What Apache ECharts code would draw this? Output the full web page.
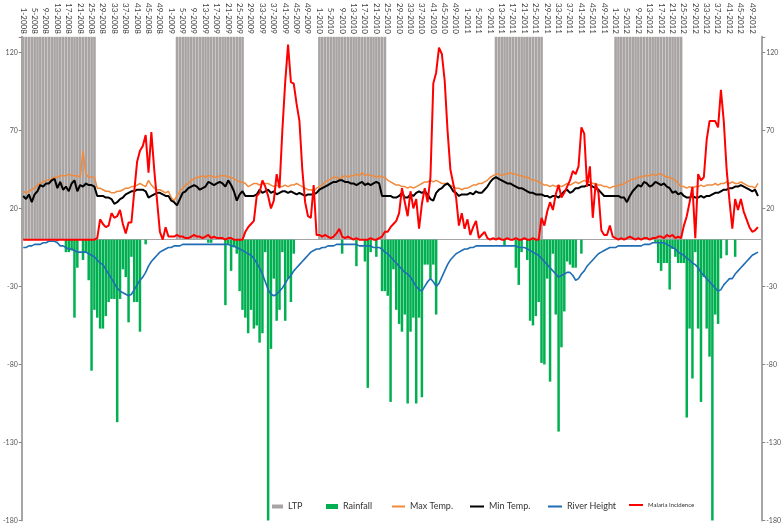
<!DOCTYPE html>
<html>
<head>
<meta charset="utf-8">
<script src="https://cdn.jsdelivr.net/npm/echarts@6/dist/echarts.min.js"></script>
</head>
<body style="margin:0">
<div id="main" style="width:784px;height:524px;"></div>
<script>
// categories: week-year, 52 weeks per year
var years = [2008, 2009, 2010, 2011, 2012];
var weeks = [];
years.forEach(function (y) {
  for (var w = 1; w <= 52; w++) weeks.push(w + '-' + y);
});

// LTP (gray band, long term planning period)
var ltp2008 = [130,130,130,130,130,130,130,130,130,130,130,130,130,130,130,130,130,130,130,130,130,130,130,130,130,130,0,0,0,0,0,0,0,0,0,0,0,0,0,0,0,0,0,0,0,0,0,0,0,0,0,0];
var ltp2009 = [0,0,130,130,130,130,130,130,130,130,130,130,130,130,130,130,130,130,130,130,130,130,130,130,130,130,0,0,0,0,0,0,0,0,0,0,0,0,0,0,0,0,0,0,0,0,0,0,0,0,0,0];
var ltp2010 = [130,130,130,130,130,130,130,130,130,130,130,130,130,130,130,130,130,130,130,130,130,130,130,130,0,0,0,0,0,0,0,0,0,0,0,0,0,0,0,0,0,0,0,0,0,0,0,0,0,0,0,0];
var ltp2011 = [0,0,0,0,0,0,0,0,0,0,130,130,130,130,130,130,130,130,130,130,130,130,130,130,130,130,130,0,0,0,0,0,0,0,0,0,0,0,0,0,0,0,0,0,0,0,0,0,0,0,0,0];
var ltp2012 = [130,130,130,130,130,130,130,130,130,130,130,130,130,130,130,130,130,130,130,130,130,130,130,130,0,0,0,0,0,0,0,0,0,0,0,0,0,0,0,0,0,0,0,0,0,0,0,0,0,0,0,0];

// Rainfall (plotted downward)
var rain2008 = [0,0,0,0,0,0,0,0,0,0,0,0,-1,0,0,-8,-8,-7,-50,-18,0,-13,-8,-26,-84,-45,-50,-57,-57,-49,-40,-38,-38,-117,-38,-19,-24,-53,-11,-40,-40,-59,0,-3,0,0,0,0,0,0,0,0];
var rain2009 = [0,0,0,0,0,0,0,0,0,0,0,0,0,-2,-2,0,0,0,0,-42,-3,-20,-5,-9,-33,-45,-50,-60,-45,-57,-55,-66,-60,-8,-180,-70,-25,-52,-45,-8,-52,-25,-40,-9,0,0,0,0,0,0,0,0];
var rain2010 = [0,0,0,0,0,0,0,0,-9,0,0,0,0,-17,0,0,-14,-95,-8,0,-11,0,-33,-33,-36,-104,-19,-45,-54,-59,-48,-105,-59,-50,-105,-50,-101,-16,-16,-25,-16,-48,0,0,0,0,0,0,0,0,0,0];
var rain2011 = [0,0,0,0,0,0,0,0,0,0,0,0,0,-4,0,0,0,-18,-29,-8,0,-13,-52,-55,-49,-40,-79,-80,-25,-91,-9,-48,-123,-69,-46,-14,-16,-18,-18,0,-9,0,0,0,0,0,0,0,0,0,0,0];
var rain2012 = [0,0,0,0,0,0,0,0,0,0,0,0,0,0,-2,-15,-20,-15,-15,-32,-6,-11,-15,-15,-15,-114,-57,-89,-8,-57,-104,-24,-57,-75,-180,-48,-54,-12,0,-10,0,0,-11,0,0,0,0,0,0,0,0,0];

// Max temperature
var max2008 = [31,30,31,32,33,35,36,37,38,38,39,40,40,41,41,41,42,41,41,41,40,57,42,40,40,40,33,33,32,31,31,30,30,31,31,32,33,33,34,34,35,36,35,34,38,35,33,32,32,31,30,31];
var max2009 = [27,25,28,31,33,35,36,38,39,40,40,41,40,41,41,40,40,41,41,41,40,40,39,38,37,37,36,34,35,36,36,35,36,36,36,35,34,35,34,34,35,34,35,35,36,35,34,33,32,32,31,33];
var max2010 = [34,35,37,38,39,40,40,39,40,41,40,41,41,42,41,43,41,42,41,41,40,41,40,40,38,37,36,35,35,34,34,33,34,33,34,35,36,37,37,38,37,38,37,36,36,36,35,34,33,33,32,33];
var max2011 = [33,34,35,35,36,36,37,38,40,41,42,42,41,42,42,43,42,42,41,41,40,40,39,38,38,37,36,35,35,34,35,34,35,34,35,36,35,36,37,36,37,38,37,37,36,36,35,35,34,34,33,34];
var max2012 = [34,35,35,36,37,38,39,39,40,40,41,41,41,42,41,42,42,41,40,40,39,38,36,34,34,33,34,33,34,34,35,34,35,35,35,36,35,36,36,37,36,37,36,36,37,36,35,34,34,33,36,null];

// Min temperature
var min2008 = [28,26,29,24,29,31,35,34,36,36,38,39,33,37,32,34,31,36,38,31,35,34,36,35,35,34,28,28,28,27,27,26,23,24,26,27,29,30,31,31,32,32,32,31,27,28,29,30,30,29,28,28];
var min2009 = [25,24,22,26,30,31,33,34,35,34,32,33,34,37,36,35,36,37,36,34,38,35,31,25,29,31,28,28,28,28,29,32,30,31,32,30,31,29,30,31,31,30,31,30,29,30,29,28,29,29,29,30];
var min2010 = [32,33,34,35,36,37,37,38,38,37,37,36,36,35,36,37,35,36,35,36,37,36,28,28,28,28,27,27,28,30,27,27,29,28,30,31,30,31,29,26,25,30,32,33,35,36,34,31,30,28,29,29];
var min2011 = [29,30,29,31,30,30,32,34,37,39,40,39,38,37,36,36,35,34,33,33,32,31,30,30,29,29,29,28,28,27,28,28,27,29,31,32,30,31,33,33,34,34,35,35,34,33,32,30,28,28,28,28];
var min2012 = [28,28,27,27,24,28,31,33,35,34,37,36,34,35,37,36,35,36,34,33,30,31,29,30,28,27,27,28,27,27,28,27,28,28,29,30,30,31,32,32,33,33,34,34,35,34,33,32,31,32,28,null];

// River height (plotted downward)
var river2008 = [-5,-5,-4,-4,-3,-3,-3,-2,-2,-1,-1,-1,-2,-4,-4,-5,-6,-6,-7,-8,-8,-8,-8,-9,-10,-11,-13,-15,-16,-19,-22,-25,-28,-31,-33,-34,-35,-36,-35,-32,-29,-26,-24,-21,-17,-14,-12,-10,-8,-7,-6,-5];
var river2009 = [-5,-4,-4,-4,-3,-3,-3,-3,-3,-3,-3,-3,-3,-3,-3,-3,-3,-3,-3,-3,-3,-4,-4,-5,-6,-7,-8,-9,-10,-12,-15,-18,-22,-27,-32,-35,-36,-35,-33,-31,-28,-25,-23,-20,-18,-16,-14,-12,-10,-8,-7,-6];
var river2010 = [-6,-5,-5,-4,-4,-4,-3,-3,-3,-3,-3,-3,-3,-3,-4,-4,-4,-4,-4,-5,-5,-5,-6,-8,-9,-11,-13,-15,-17,-19,-21,-22,-24,-27,-30,-32,-33,-30,-27,-25,-27,-30,-28,-24,-20,-16,-13,-11,-9,-8,-7,-6];
var river2011 = [-6,-5,-5,-4,-4,-4,-4,-4,-4,-4,-4,-4,-4,-4,-4,-4,-4,-4,-5,-5,-5,-6,-7,-8,-9,-10,-12,-14,-16,-18,-20,-22,-24,-23,-22,-21,-21,-23,-26,-25,-22,-20,-17,-15,-13,-11,-9,-8,-7,-6,-5,-5];
var river2012 = [-5,-4,-4,-4,-4,-4,-4,-4,-4,-4,-3,-3,-3,-2,-2,-2,-2,-2,-3,-4,-5,-6,-8,-9,-10,-12,-13,-15,-16,-18,-21,-23,-25,-27,-29,-31,-33,-32,-29,-27,-25,-25,-22,-20,-18,-16,-14,-12,-10,-9,-8,null];

// Malaria incidence
var mal2008 = [0,0,0,0,0,0,0,0,0,0,0,0,0,0,0,0,0,0,0,0,0,0,0,0,0,0,1,13,10,8,9,17,14,15,19,10,4,11,11,31,50,57,60,67,43,69,45,25,5,0,8,2];
var mal2009 = [2,2,3,2,2,1,1,2,3,2,2,1,2,3,1,2,1,1,1,0,1,1,0,0,0,0,5,8,10,12,28,30,38,34,28,20,25,42,33,70,101,125,101,100,87,76,45,24,15,14,35,3];
var mal2010 = [3,2,3,2,1,2,4,7,2,1,2,1,0,1,0,0,0,0,1,0,0,1,2,5,5,8,10,12,17,33,24,15,31,20,26,7,23,33,24,40,100,107,123,119,102,70,45,36,27,9,17,7];
var mal2011 = [13,3,8,12,1,3,5,1,0,1,0,1,0,0,1,0,0,1,0,0,1,0,0,1,0,0,14,9,18,24,19,29,35,27,30,34,38,44,42,47,72,68,34,47,14,36,30,6,3,3,9,2];
var mal2012 = [1,0,1,0,1,2,1,0,1,0,1,1,0,1,1,2,2,1,3,2,3,1,2,1,9,15,24,34,1,42,38,40,64,76,76,76,72,96,76,45,25,7,26,19,26,18,13,8,5,6,8,null];

var ltp = [].concat(ltp2008, ltp2009, ltp2010, ltp2011, ltp2012);
var rain = [].concat(rain2008, rain2009, rain2010, rain2011, rain2012);
var maxTemp = [].concat(max2008, max2009, max2010, max2011, max2012);
var minTemp = [].concat(min2008, min2009, min2010, min2011, min2012);
var river = [].concat(river2008, river2009, river2010, river2011, river2012);
var malaria = [].concat(mal2008, mal2009, mal2010, mal2011, mal2012);

var chart = echarts.init(document.getElementById('main'));
var font = 'Lato, "Liberation Sans", sans-serif';
var yLabel = {
  fontSize: 7, color: '#555', fontFamily: font, margin: 4,
  formatter: function (v) { return v > 120 ? '' : v; }
};
function leg(name, left, w, h, fs) {
  return {
    data: [name], left: left, top: 502, icon: 'rect',
    itemWidth: w, itemHeight: h, padding: 0,
    textStyle: { fontSize: fs, color: '#333', fontFamily: font }
  };
}

chart.setOption({
  animation: false,
  backgroundColor: '#fff',
  grid: { left: 17, right: 17, top: 32, bottom: 2 },
  legend: [
    leg('LTP', 272, 11, 4, 9),
    leg('Rainfall', 326, 12, 5, 9),
    leg('Max Temp.', 392, 13, 2, 9),
    leg('Min Temp.', 470, 14, 2, 9),
    leg('River Height', 548, 14, 2, 9),
    leg('Malaria Incidence', 629, 14, 2, 6)
  ],
  xAxis: [{
    type: 'category', data: weeks, position: 'top',
    axisLine: { show: false, onZero: false },
    axisTick: { show: false },
    axisLabel: { interval: 3, rotate: 90, fontSize: 8, color: '#404040', fontFamily: font, margin: 3 }
  }, {
    type: 'category', data: weeks, position: 'bottom',
    axisLine: { onZero: true, lineStyle: { color: '#a6a6a6', width: 1 } },
    axisTick: { interval: 0, length: 3, lineStyle: { color: '#a6a6a6' } },
    axisLabel: { show: false }
  }],
  yAxis: [{
    type: 'value', min: -180, max: 130, interval: 50, position: 'left',
    axisLine: { show: true, lineStyle: { color: '#a6a6a6', width: 2 } },
    axisTick: { show: true, length: 3, lineStyle: { color: '#888' } },
    splitLine: { show: false },
    axisLabel: yLabel
  }, {
    type: 'value', min: -180, max: 130, interval: 50, position: 'right',
    axisLine: { show: true, lineStyle: { color: '#a6a6a6', width: 2 } },
    axisTick: { show: true, length: 3, lineStyle: { color: '#888' } },
    splitLine: { show: false },
    axisLabel: yLabel
  }],
  series: [{
    name: 'LTP', type: 'bar', data: ltp, barWidth: 2.6, barGap: '-100%',
    itemStyle: { color: '#a9a4a4' }, z: 1
  }, {
    name: 'Rainfall', type: 'bar', data: rain, barWidth: 2.5,
    itemStyle: { color: '#00b050' }, z: 2
  }, {
    name: 'Max Temp.', type: 'line', data: maxTemp, symbol: 'none',
    lineStyle: { color: '#f08a3c', width: 1.5 }, itemStyle: { color: '#f08a3c' }, z: 3
  }, {
    name: 'Min Temp.', type: 'line', data: minTemp, symbol: 'none',
    lineStyle: { color: '#000', width: 2 }, itemStyle: { color: '#000' }, z: 4
  }, {
    name: 'River Height', type: 'line', data: river, symbol: 'none',
    lineStyle: { color: '#1f6db4', width: 1.6 }, itemStyle: { color: '#1f6db4' }, z: 5
  }, {
    name: 'Malaria Incidence', type: 'line', data: malaria, symbol: 'none',
    lineStyle: { color: '#f00', width: 2 }, itemStyle: { color: '#f00' }, z: 6
  }]
});
</script>
</body>
</html>
